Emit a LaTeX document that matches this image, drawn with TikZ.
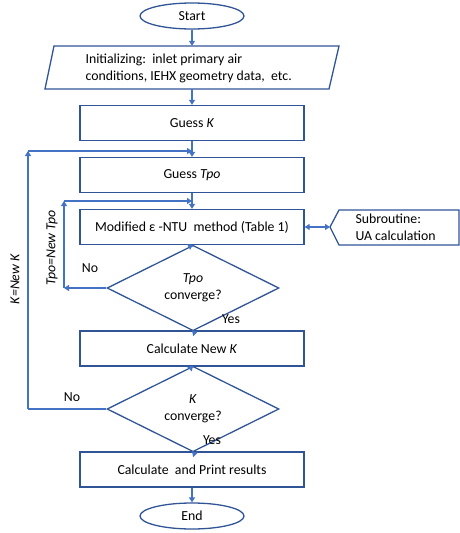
\documentclass[tikz,border=0pt]{standalone}
\usepackage{fontspec}
\setmainfont{Carlito}
\usetikzlibrary{shapes.geometric,arrows.meta}
\definecolor{boxblue}{RGB}{47,85,151}
\definecolor{lineblue}{RGB}{68,114,196}
\begin{document}
\begin{tikzpicture}[x=1pt,y=-1pt,
  font=\fontsize{13.8}{17}\selectfont,
  terminal/.style={ellipse,draw=boxblue,line width=1.3pt,minimum width=104pt,minimum height=26pt,inner sep=0pt},
  procbox/.style={rectangle,draw=boxblue,line width=1.3pt,minimum width=224pt,minimum height=35pt,inner sep=0pt},
  decision/.style={diamond,draw=boxblue,line width=1.3pt,minimum width=172pt,minimum height=51pt,inner sep=0pt,align=center},
  flow/.style={draw=lineblue,line width=1.3pt,-{Triangle[width=6pt,length=5pt]}},
  biflow/.style={draw=lineblue,line width=1.3pt,{Triangle[width=6pt,length=5pt]}-{Triangle[width=6pt,length=5pt]}},
  link/.style={draw=lineblue,line width=1.3pt}]
  \useasboundingbox (0,0) rectangle (460,533);
  % main column
  \node[terminal] (start) at (192,16) {Start};
  \node[minimum width=294pt,minimum height=43pt,inner sep=0pt] (init) at (192,67.5) {};
  \draw[boxblue,line width=1.3pt] (54,46)--(339,46)--(329,89)--(45,89)--cycle;
  \node[anchor=west,align=left] (inittext) at (82,68) {Initializing:\ \ inlet primary air\\conditions, IEHX geometry data,\ \ etc.};
  \node[procbox] (guessK) at (192,123) {Guess \textit{K}};
  \node[procbox] (guessT) at (192,175) {Guess \textit{Tpo}};
  \node[procbox] (ntu) at (192,227) {Modified ε -NTU\ \ method (Table 1)};
  \node[decision] (convT) at (193,288) {\textit{Tpo}\\converge?};
  \node[procbox] (newK) at (192,348.5) {Calculate New \textit{K}};
  \node[decision] (convK) at (193,409) {\textit{K}\\converge?};
  \node[procbox] (print) at (192,469.5) {Calculate\ \ and Print results};
  \node[terminal] (stop) at (192,516) {End};
  % subroutine
  \coordinate (subtip) at (330,227);
  \draw[boxblue,line width=1.3pt] (subtip)--(339,210)--(459,210)--(459,245)--(339,245)--cycle;
  \node[anchor=west,align=left] (sub) at (352,227) {Subroutine:\\UA calculation};
  \draw[biflow] (ntu.east) -- (subtip);
  % downward arrows
  \foreach \a/\b in {start/init,init/guessK,guessK/guessT,guessT/ntu,ntu/convT,convT/newK,newK/convK,convK/print,print/stop}
    \draw[flow] (\a.south) -- (\b.north);
  % Tpo loop
  \coordinate (tA) at (64,288);
  \coordinate (tB) at (64,201);
  \coordinate (tC) at (192,201);
  \draw[flow] (convT.west) -- (tA);
  \draw[flow] (tA) -- (tB);
  \draw[flow] (tB) -- (tC);
  \node (noT) at (90,268) {No};
  \node (yesT) at (231,319) {Yes};
  \node[rotate=90] (newTpo) at (52,248) {\textit{Tpo=New Tpo}};
  % K loop
  \coordinate (kA) at (28,409);
  \coordinate (kB) at (28,151);
  \coordinate (kC) at (192,151);
  \draw[link] (convK.west) -- (kA);
  \draw[flow] (kA) -- (kB);
  \draw[flow] (kB) -- (kC);
  \node (noK) at (72,397) {No};
  \node (yesK) at (212,440) {Yes};
  \node[rotate=90] (newKlab) at (15,279) {\textit{K=New K}};
\end{tikzpicture}
\end{document}
